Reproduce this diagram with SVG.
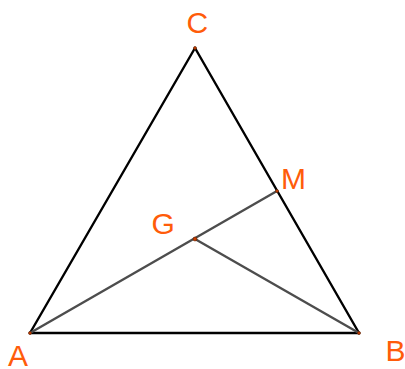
<svg xmlns="http://www.w3.org/2000/svg" width="405" height="369" viewBox="0 0 405 369">
<style>
.lbl{font-family:"Liberation Sans",Arial,sans-serif;font-size:30px;fill:#ff5c0a}
.tri{stroke:#000;stroke-width:2.4;fill:none;stroke-linecap:round}
.seg{stroke:#4d4d4d;stroke-width:2.4;fill:none;stroke-linecap:round}
.pt{fill:#c83c00;stroke:#5a2000;stroke-width:0.6}
</style>
<rect width="405" height="369" fill="#fff"/>
<g id="connectors">
<line class="tri" x1="30" y1="333" x2="359" y2="333"/>
<line class="tri" x1="30" y1="333" x2="195" y2="48"/>
<line class="tri" x1="195" y1="48" x2="359" y2="333"/>
<line class="seg" x1="30" y1="333" x2="277" y2="191"/>
<line class="seg" x1="195" y1="239" x2="359" y2="333"/>
</g>
<g id="A"><circle class="pt" cx="30" cy="333" r="1.5"/><text class="lbl" x="8" y="366">A</text></g>
<g id="B"><circle class="pt" cx="359" cy="333" r="1.5"/><text class="lbl" x="385.5" y="361">B</text></g>
<g id="C"><circle class="pt" cx="195" cy="48" r="1.5"/><text class="lbl" x="186.5" y="33">C</text></g>
<g id="M"><circle class="pt" cx="277" cy="191" r="1.5"/><text class="lbl" x="281" y="189">M</text></g>
<g id="G"><circle class="pt" cx="195" cy="239" r="2"/><text class="lbl" x="151.5" y="234">G</text></g>
</svg>
